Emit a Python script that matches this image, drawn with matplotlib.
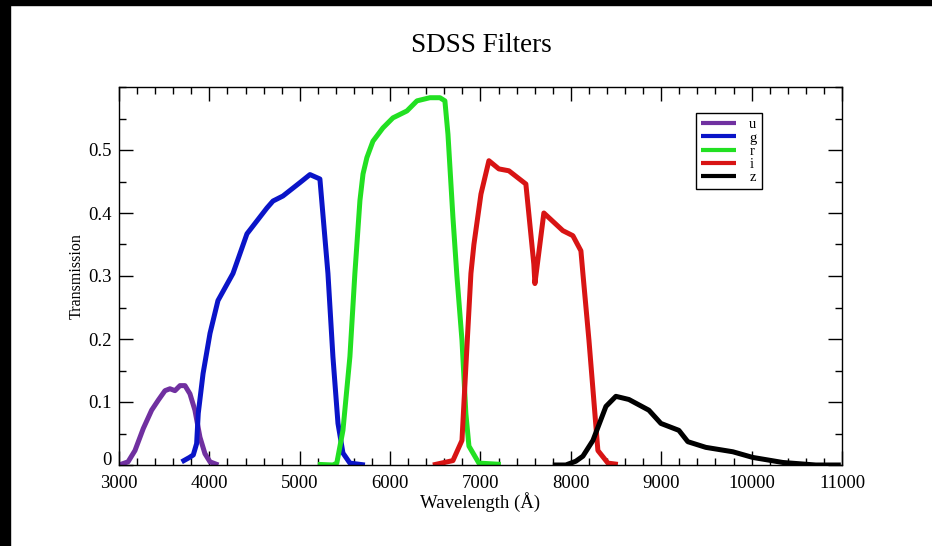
import numpy as np
import matplotlib
matplotlib.use('Agg')
from matplotlib import pyplot as plt
from matplotlib.patches import Rectangle
from matplotlib.ticker import MultipleLocator
from matplotlib.transforms import ScaledTranslation

plt.rcParams['font.family'] = ['Liberation Serif', 'DejaVu Serif']

# filter curves (wavelength in Angstrom, transmission)
u_wave = [3000, 3100, 3177, 3269, 3361, 3435, 3509, 3564, 3619, 3675, 3730, 3785, 3840, 3896, 3951, 4007, 4100]
u_trans = [0.0, 0.005, 0.023, 0.058, 0.087, 0.103, 0.118, 0.121, 0.118, 0.126, 0.126, 0.113, 0.087, 0.044, 0.018, 0.005, 0.0]

g_wave = [3693, 3780, 3822, 3859, 3877, 3930, 4007, 4095, 4261, 4416, 4637, 4704, 4814, 5000, 5113, 5223,
          5312, 5367, 5423, 5478, 5555, 5721]
g_trans = [0.005, 0.012, 0.016, 0.034, 0.082, 0.145, 0.209, 0.261, 0.304, 0.367, 0.408, 0.419, 0.427, 0.448, 0.461, 0.454,
           0.304, 0.172, 0.066, 0.019, 0.003, 0.0]

r_wave = [5200, 5367, 5410, 5478, 5555, 5610, 5666, 5700, 5743, 5810, 5920, 6031, 6186, 6297, 6440, 6551, 6606,
          6640, 6695, 6739, 6795, 6838, 6872, 6982, 7225]
r_trans = [0.001, 0.0, 0.003, 0.055, 0.172, 0.304, 0.42, 0.462, 0.488, 0.514, 0.535, 0.551, 0.562, 0.578, 0.583, 0.583, 0.578,
           0.525, 0.393, 0.30, 0.198, 0.082, 0.03, 0.003, 0.001]

i_wave = [6473, 6695, 6795, 6838, 6894, 6927, 7005, 7093, 7203, 7314, 7502, 7590, 7602, 7701, 7911, 8022, 8111,
          8133, 8200, 8299, 8410, 8520]
i_trans = [0.0, 0.007, 0.039, 0.156, 0.304, 0.35, 0.43, 0.483, 0.47, 0.467, 0.446, 0.319, 0.288, 0.40, 0.372, 0.364, 0.34,
           0.304, 0.198, 0.023, 0.003, 0.001]

z_wave = [7800, 7944, 8055, 8133, 8244, 8388, 8498, 8642, 8863, 8996, 9195, 9294, 9493, 9792, 10013, 10345, 10710, 10987]
z_trans = [0.0, 0.0, 0.006, 0.014, 0.039, 0.093, 0.109, 0.104, 0.087, 0.066, 0.055, 0.037, 0.028, 0.021, 0.012, 0.004, 0.0, 0.0]

curves = [('u', u_wave, u_trans, '#7030A0'),
          ('g', g_wave, g_trans, '#0A14C8'),
          ('r', r_wave, r_trans, '#22E022'),
          ('i', i_wave, i_trans, '#D81414'),
          ('z', z_wave, z_trans, '#000000')]

fig = plt.figure(figsize=(9.32, 5.46), dpi=100)
# black strips along top and left edge of the screenshot
fig.patches.append(Rectangle((0, 1 - 5 / 546), 1, 5 / 546, transform=fig.transFigure, color='black', zorder=0))
fig.patches.append(Rectangle((0, 0), 10 / 932, 1, transform=fig.transFigure, color='black', zorder=0))

ax = fig.add_axes([119 / 932, 81 / 546, 723 / 932, 378 / 546])
for name, w, t, c in curves:
    ax.plot(w, t, color=c, lw=3.6, label=name, solid_joinstyle='round', solid_capstyle='butt')

ax.set_xlim(3000, 11000)
ax.set_ylim(0, 0.6)
ax.xaxis.set_major_locator(MultipleLocator(1000))
ax.xaxis.set_minor_locator(MultipleLocator(200))
ax.set_yticks([0, 0.1, 0.2, 0.3, 0.4, 0.5])
ax.set_yticklabels(['0', '0.1', '0.2', '0.3', '0.4', '0.5'])
ax.yaxis.set_minor_locator(MultipleLocator(0.05))
ax.tick_params(which='both', direction='in', top=True, right=True, labelsize=13.5, width=1)
ax.tick_params(which='major', length=10)
ax.tick_params(which='minor', length=5)
ax.tick_params(axis='x', which='major', pad=7)
ax.tick_params(axis='y', which='major', pad=5)
for s in ax.spines.values():
    s.set_linewidth(1)

# lift the "0" label a little so it sits just above the "3000" below it
zero = ax.get_yticklabels()[0]
zero.set_va('bottom')
zero.set_transform(zero.get_transform() + ScaledTranslation(0, -4 / 100, fig.dpi_scale_trans))

ax.set_xlabel('Wavelength (Å)', fontsize=13.5, labelpad=0)
ax.set_ylabel('Transmission', fontsize=11.5, labelpad=3)
fig.text(481 / 932, 1 - 45 / 546, 'SDSS Filters', ha='center', va='center', fontsize=19.5)

leg = ax.legend(loc='upper left', bbox_to_anchor=((696 - 119) / 723, (465 - 113) / 378), fancybox=False,
                edgecolor='black', framealpha=1, fontsize=10.5, handlelength=2.4, handletextpad=0.9,
                labelspacing=0.0, borderpad=0.35, borderaxespad=0)
leg.get_frame().set_linewidth(1)
for line in leg.get_lines():
    line.set_linewidth(3)

fig.savefig('out.png', dpi=100)
